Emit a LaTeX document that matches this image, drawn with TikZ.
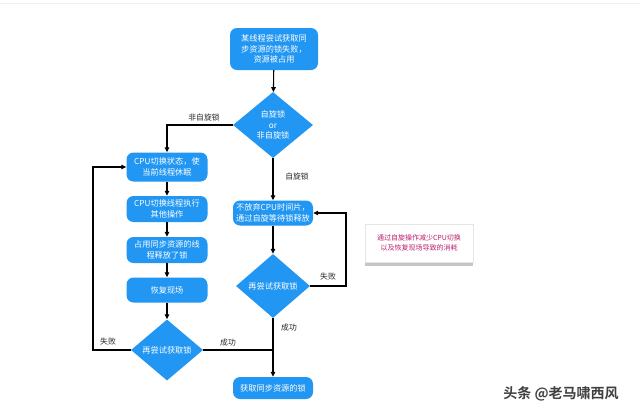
\documentclass[tikz,border=0pt]{standalone}
\usepackage{fontspec}
\newfontfamily\cjk{Noto Sans CJK SC}
\newfontfamily\cjkb{Noto Sans CJK SC Bold}
\usetikzlibrary{shapes.geometric,arrows.meta,shadows}
\definecolor{flowblue}{RGB}{33,150,243}
\definecolor{notepink}{RGB}{190,30,110}
\definecolor{labelgray}{RGB}{40,40,40}
\begin{document}
\begin{tikzpicture}[x=1pt,y=-1pt,
  txt/.style={font=\cjk\fontsize{8.2}{10.5}\selectfont, text=white, align=center},
  blk/.style={txt, rectangle, rounded corners=7pt, fill=flowblue, inner sep=1pt},
  dia/.style={txt, diamond, fill=flowblue, inner sep=0pt},
  arr/.style={draw=black, line width=1.1pt, -{Triangle[length=5pt,width=4.5pt]}},
  ln/.style={draw=black, line width=1.1pt},
  lbl/.style={font=\cjk\fontsize{7.8}{10}\selectfont, text=labelgray}
]
\useasboundingbox (0,0) rectangle (640,416);
\fill[white] (0,0) rectangle (640,416);
\draw[gray!12, line width=1pt] (0,3) -- (640,3);

% nodes
\node[blk, minimum width=88, minimum height=42] (top) at (274,49) {某线程尝试获取同\\步资源的锁失败，\\资源被占用};
\node[dia, minimum width=80, minimum height=66] (d1) at (273,125) {自旋锁\\or\\非自旋锁};

\node[blk, minimum width=81, minimum height=29] (b1) at (167,167) {CPU切换状态，使\\当前线程休眠};
\node[blk, minimum width=81, minimum height=26] (b2) at (167,209) {CPU切换线程执行\\其他操作};
\node[blk, minimum width=81, minimum height=26] (b3) at (167,250) {占用同步资源的线\\程释放了锁};
\node[blk, minimum width=81, minimum height=25] (b4) at (167,290) {恢复现场};
\node[dia, minimum width=72, minimum height=61] (d2) at (167,350) {再尝试获取锁};

\node[blk, minimum width=80, minimum height=25] (rb) at (273,213) {不放弃CPU时间片，\\通过自旋等待锁释放};
\node[dia, minimum width=74, minimum height=64] (d3) at (273,286) {再尝试获取锁};
\node[blk, minimum width=80, minimum height=22] (fin) at (273,388) {获取同步资源的锁};

\coordinate (j) at (273,350);
\coordinate (lx) at (93,350);
\coordinate (rx) at (346,286);

% connectors
\draw[arr] (top) -- (d1);
\draw[arr] (d1.west) -| (b1.north);
\draw[arr] (d1.south) -- (rb.north);
\draw[arr] (b1) -- (b2);
\draw[arr] (b2) -- (b3);
\draw[arr] (b3) -- (b4);
\draw[arr] (b4) -- (d2);
\draw[arr] (d2.west) -- (lx) |- (b1.west);
\draw[ln] (d2.east) -- (j);
\draw[arr] (rb) -- (d3);
\draw[arr] (d3.east) -- (rx) |- (rb.east);
\draw[arr] (d3.south) -- (fin.north);

% labels
\node[lbl] (l1) at (204,118) {非自旋锁};
\node[lbl] (l2) at (297,177) {自旋锁};
\node[lbl] (l3) at (108,342) {失败};
\node[lbl] (l4) at (228,343) {成功};
\node[lbl] (l5) at (328,277) {失败};
\node[lbl] (l6) at (289,328) {成功};

% note card
\node[draw=gray!20, fill=white, drop shadow={shadow xshift=0pt, shadow yshift=-4pt, opacity=0.45}, minimum width=108, minimum height=38, font=\cjk\fontsize{7}{10.5}\selectfont, text=notepink, align=center] (note) at (419,243) {通过自旋操作减少CPU切换\\以及恢复现场导致的消耗};

% watermark
\node[font=\cjkb\fontsize{14}{16}\selectfont, text=black!75] (wm) at (561,394) {头条 @老马啸西风};
\end{tikzpicture}
\end{document}
